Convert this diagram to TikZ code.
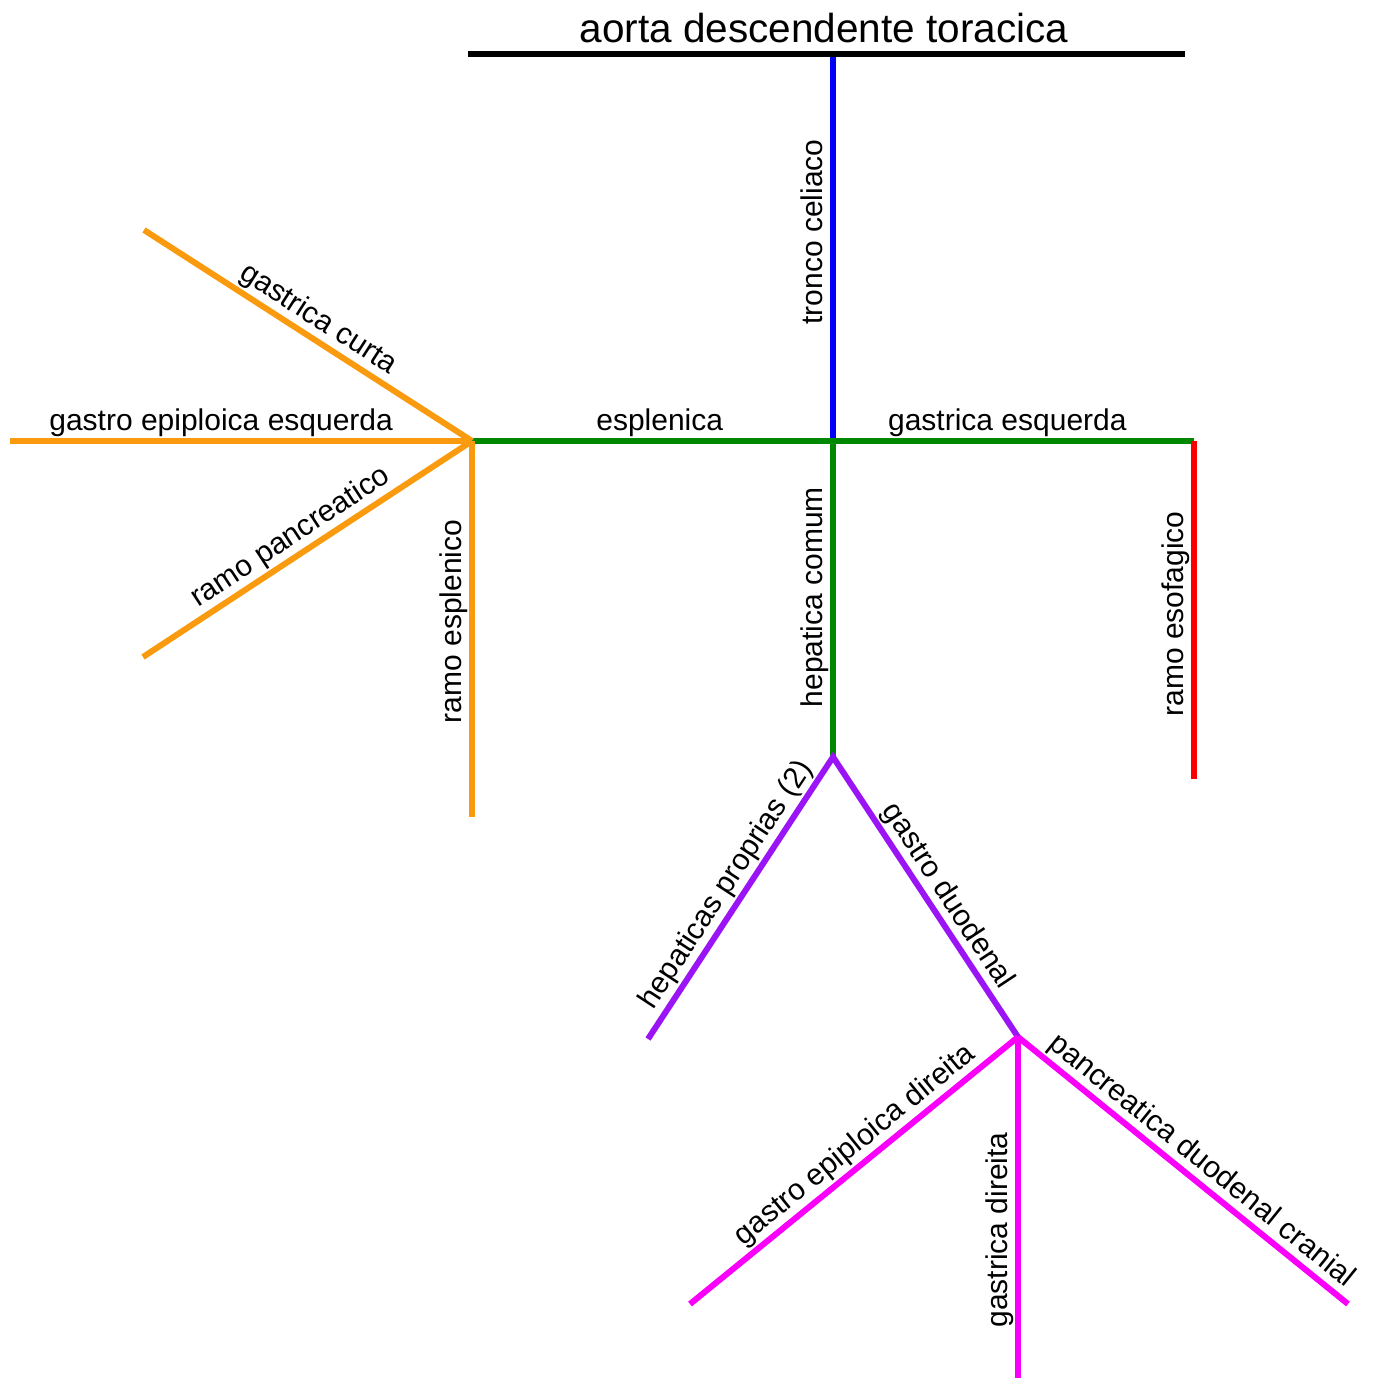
\documentclass[tikz,border=0pt]{standalone}
\usepackage{fontspec}
\setmainfont{Liberation Sans}
\definecolor{aorange}{RGB}{250,155,15}
\definecolor{agreen}{RGB}{0,136,0}
\definecolor{apurple}{RGB}{155,20,245}
\definecolor{amagenta}{RGB}{250,0,250}
\definecolor{ared}{RGB}{250,0,0}
\definecolor{ablue}{RGB}{0,0,250}
\begin{document}
\begin{tikzpicture}[x=1pt,y=-1pt,
  vessel/.style={line width=6pt},
  lbl/.style={font=\fontsize{30}{36}\selectfont, text=black, inner sep=0pt, text depth=0pt, sloped, above=8pt}]
\useasboundingbox (0,0) rectangle (1374,1378);
% junction points
\coordinate (aL) at (468,54);
\coordinate (aR) at (1185,54);
\coordinate (aT) at (833,54);
\coordinate (cel) at (833,441);
\coordinate (spl) at (472,441);
\coordinate (gsE) at (1194,441);
\coordinate (esoB) at (1194,779);
\coordinate (hep) at (833,757);
\coordinate (hpB) at (648,1039);
\coordinate (gd) at (1018,1037);
\coordinate (gcT) at (144,230);
\coordinate (geL) at (10,441);
\coordinate (rpB) at (143,657);
\coordinate (reB) at (472,817);
\coordinate (gedB) at (690,1304);
\coordinate (gdirB) at (1018,1378);
\coordinate (pdcB) at (1348,1304);
% title
\node[font=\fontsize{40.5}{48}\selectfont, anchor=base, inner sep=0pt] (title) at (824,43) {aorta descendente toracica};
% blue
\draw[vessel, ablue] (cel) -- node[lbl, pos=0.54] (ltc) {tronco celiaco} (aT);
% black
\draw[line width=6pt, black] (aL) -- (aR);
% green
\draw[vessel, agreen] (spl) -- node[lbl, pos=0.52] (lesp) {esplenica} (cel);
\draw[vessel, agreen] (cel) -- node[lbl, pos=0.483] (lgse) {gastrica esquerda} (gsE);
\draw[vessel, agreen] (hep) -- node[lbl, pos=0.506] (lhc) {hepatica comum} (cel);
% red
\draw[vessel, ared] (esoB) -- node[lbl, pos=0.488] (lre) {ramo esofagico} (gsE);
% orange
\draw[vessel, aorange] (gcT) -- node[lbl, pos=0.5] (lgc) {gastrica curta} (spl);
\draw[vessel, aorange] (geL) -- node[lbl, pos=0.457] (lgee) {gastro epiploica esquerda} (spl);
\draw[vessel, aorange] (rpB) -- node[lbl, pos=0.48] (lrp) {ramo pancreatico} (spl);
\draw[vessel, aorange] (reB) -- node[lbl, pos=0.52] (lrsp) {ramo esplenico} (spl);
% purple
\draw[vessel, apurple] (hpB) -- node[lbl, pos=0.51] (lhp) {hepaticas proprias (2)} (hep)
   -- node[lbl, pos=0.535] (lgdu) {gastro duodenal} (gd);
% magenta
\draw[vessel, amagenta] (gedB) -- node[lbl, pos=0.54] (lged) {gastro epiploica direita} (gd);
\draw[vessel, amagenta] (gdirB) -- node[lbl, pos=0.434] (lgdir) {gastrica direita} (gd);
\draw[vessel, amagenta] (gd) -- node[lbl, pos=0.52] (lpdc) {pancreatica duodenal cranial} (pdcB);
\end{tikzpicture}
\end{document}
